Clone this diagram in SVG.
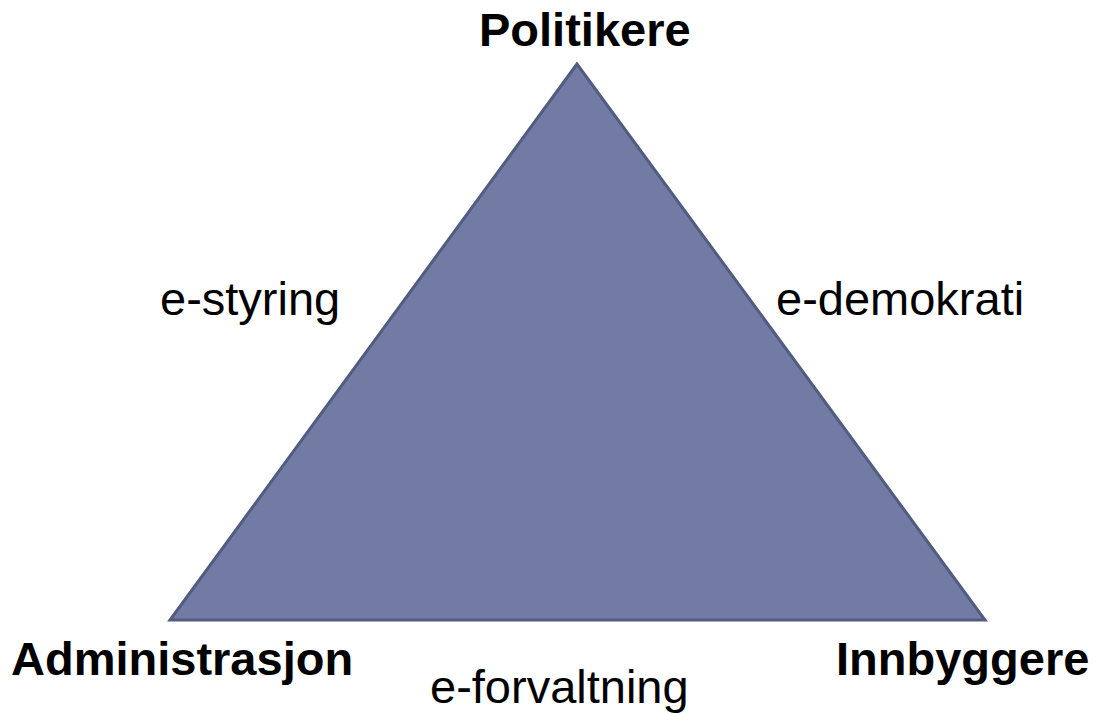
<svg xmlns="http://www.w3.org/2000/svg" width="1098" height="713" viewBox="0 0 1098 713">
<style>
.b{font-family:"Liberation Sans",Arial,sans-serif;font-weight:bold;font-size:47px;fill:#000}
.r{font-family:"Liberation Sans",Arial,sans-serif;font-size:47px;fill:#000}
</style>
<rect width="1098" height="713" fill="#fff"/>
<g id="triangle">
<polygon points="577,64 170,620 985,620" fill="#717ba3" stroke="#515c80" stroke-width="3" stroke-linejoin="miter"/>
</g>
<g id="node-politikere"><text class="b" x="479" y="46">Politikere</text></g>
<g id="node-administrasjon"><text class="b" x="11" y="675">Administrasjon</text></g>
<g id="node-innbyggere"><text class="b" x="836" y="675">Innbyggere</text></g>
<g id="connectors">
<text class="r" x="160" y="315">e-styring</text>
<text class="r" x="776" y="315">e-demokrati</text>
<text class="r" x="430" y="703">e-forvaltning</text>
</g>
</svg>
